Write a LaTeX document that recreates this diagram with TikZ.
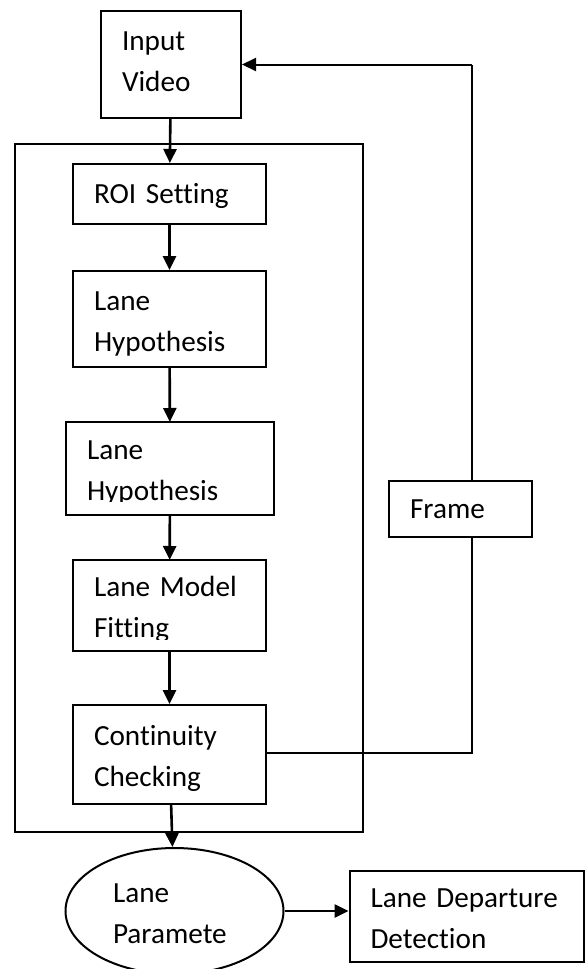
\documentclass[tikz,border=0pt]{standalone}
\usepackage{fontspec}
\setmainfont{Carlito}[Ligatures=NoCommon, WordSpace=0.7]
\usetikzlibrary{arrows.meta,shapes.geometric}

\begin{document}
\begin{tikzpicture}[
                    x=0.5pt, y=-0.5pt,
                    >={Triangle[length=7pt, width=6.5pt]},
                    every node/.style={font=\fontsize{14.6pt}{20.5pt}\selectfont},
                    box/.style={draw, line width=1pt, align=left, inner xsep=10.5pt, inner ysep=0pt},
                    oneline/.style={text height=10pt, text depth=0.7pt},
                    twoline/.style={text height=12pt, text depth=21pt},
                    cut/.style={draw=none, outer sep=0pt},
                    link/.style={->, line width=1.3pt},
                    back/.style={line width=0.8pt}
            ]
                \clip (0,0) rectangle (585,969);
                \node [draw, line width=1pt, minimum width=174pt, minimum height=344pt] (group) at (189,488) {};
                \node [box, text width=49pt, minimum height=53.5pt, text height=10pt, text depth=24pt] (input) at (171,64.5) {Input\\Video};
                \node [box, oneline, text width=75.5pt, minimum height=30pt] (roi) at (169.5,194) {ROI Setting};
                \node [box, twoline, text width=75.5pt, minimum height=48pt] (hypa) at (169.5,319) {Lane\\Hypothesis};
                \begin{scope}
                    \clip (0,422) rectangle (585,501);
                    \node [box, twoline, cut, text width=83pt, minimum height=46.5pt] (hypb) at (170,468.5) {Lane\\Hypothesis};
                \end{scope}
                \draw [line width=1pt] (hypb.north west) rectangle (hypb.south east);
                \begin{scope}
                    \clip (0,560) rectangle (585,639);
                    \node [box, twoline, cut, text width=75.5pt, minimum height=45.5pt] (fit) at (169.5,605.5) {Lane Model\\Fitting};
                \end{scope}
                \draw [line width=1pt] (fit.north west) rectangle (fit.south east);
                \node [box, twoline, text width=75.5pt, minimum height=49.5pt] (cont) at (169.5,754.5) {Continuity\\Checking};
                \node [ellipse, draw, line width=1pt, inner sep=0pt, minimum width=109pt, minimum height=63pt,
                       align=left, text width=61.5pt, twoline] (param) at (174.5,911) {Lane\\Paramete};
                \node [box, twoline, text width=96pt, minimum height=45.5pt] (depart) at (466.5,916.5) {Lane Departure\\Detection};
                \node [box, oneline, text width=50.5pt, minimum height=28pt] (frame) at (460.5,509) {Frame};
                \coordinate (turn) at (472,753);

                \draw [link] (input) -- (roi);
                \draw [link] (roi) -- (hypa);
                \draw [link] (hypa) -- (hypb);
                \draw [link] (hypb) -- (fit);
                \draw [link] (fit) -- (cont);
                \draw [link] (cont) -- (param);
                \draw [link] (param.east) -- (param.east -| depart.west);
                \draw [back] (cont.east |- turn) -- (turn) -- (turn |- frame.south);
                \draw [back] (turn |- frame.north) -- (turn |- input.east);
                \draw [link, line width=1pt] (turn |- input.east) -- (input.east);
            \end{tikzpicture}
\end{document}
